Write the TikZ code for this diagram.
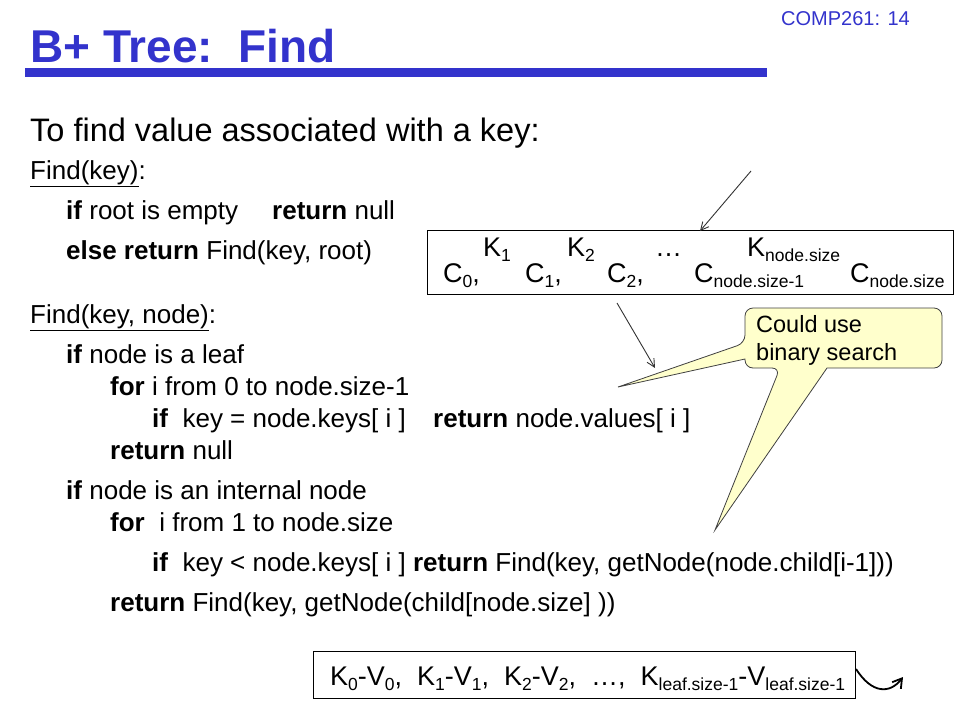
\documentclass[tikz,border=0pt]{standalone}
\usepackage{fontspec}
\setmainfont{Liberation Sans}
\usetikzlibrary{arrows.meta,positioning}
\definecolor{slideblue}{RGB}{51,51,204}
\definecolor{notefill}{RGB}{255,255,204}
\newcommand{\kw}[1]{\textbf{#1}}
\newcommand{\sz}[1]{\fontsize{#1}{#1}\selectfont}
\newcommand{\lo}[1]{\raisebox{-5pt}{\fontsize{17.5}{17.5}\selectfont #1}}

\begin{document}
\begin{tikzpicture}[x=1pt,y=-1pt,
  txt/.style={anchor=base west,inner sep=0pt,font=\sz{26}},
  keys/.style={anchor=base west,inner sep=0pt,font=\sz{27}},
  ptr/.style={draw=black!80,line width=0.9pt,-{Straight Barb[length=8pt,width=8pt]}},
  note/.style={draw=black!75,fill=notefill,line width=0.8pt},
  box/.style={draw,line width=1pt,inner sep=0pt,anchor=north west}]
\useasboundingbox (0,0) rectangle (960,720);
\node[anchor=base east,inner sep=0pt,text=slideblue,font=\sz{20}] (page) at (910,25) {COMP261: 14};
\node[anchor=base west,inner sep=0pt,text=slideblue,font=\bfseries\sz{46}] (title) at (30,62) {B+ Tree:\ \ Find};
\fill[slideblue] (25,68) rectangle (767,77);

\node[txt,font=\sz{32.5}] (intro) at (30,141) {To find value associated with a key:};
\node[txt] (find) at (30,179) {\underline{Find(key)}:};
\node[txt] (empty) at (66,219) {\makebox[206pt][l]{\kw{if} root is empty}\kw{return} null};
\node[txt] (start) at (66,259) {\kw{else return} Find(key, root)};
\node[txt] (findnode) at (30,323) {\underline{Find(key, node)}:};
\node[txt] (leaf) at (66,363) {\kw{if} node is a leaf};
\node[txt] (leaffor) at (110,395) {\kw{for} i from 0 to node.size-1};
\node[txt] (leafif) at (152,427) {\makebox[281pt][l]{\kw{if}\ \ key = node.keys[ i ]}\kw{return} node.values[ i ]};
\node[txt] (leafret) at (110,459) {\kw{return} null};
\node[txt] (inner) at (66,499) {\kw{if} node is an internal node};
\node[txt] (innerfor) at (110,531) {\kw{for}\ \ i from 1 to node.size};
\node[txt] (innerif) at (152,571) {\kw{if}\ \ key < node.keys[ i ] \kw{return} Find(key, getNode(node.child[i-1]))};
\node[txt] (innerret) at (110,611) {\kw{return} Find(key, getNode(child[node.size] ))};

\node[box,minimum width=526pt,minimum height=64pt] (inode) at (427,230) {};
\node[keys] (k1) at (483,256) {K\lo{1}};
\node[keys] (k2) at (567,256) {K\lo{2}};
\node[keys] (dots) at (655,256) {\dots};
\node[keys] (kn) at (747,256) {K\lo{node.size}};
\node[keys] (c0) at (443,282) {C\lo{0},};
\node[keys] (c1) at (525,282) {C\lo{1},};
\node[keys] (c2) at (607,282) {C\lo{2},};
\node[keys] (cm) at (694,282) {C\lo{node.size-1}};
\node[keys] (cn) at (850,282) {C\lo{node.size}};
\coordinate (from) at (751,171);
\coordinate (hit) at (700,231);
\coordinate (below) at (617,303);
\coordinate (child) at (655,368);
\draw[ptr] (from) -- (hit);
\draw[ptr] (below) -- (child);

\draw[note] (745,343) -- (618,387) -- (745,359) [rounded corners=8pt] -- (745,368) -- (780,368)
  [sharp corners] -- (715,530) -- (827,368) [rounded corners=8pt] -- (942,368) -- (942,308) -- (745,308) -- cycle;
\node[anchor=north west,align=left,inner sep=0pt,font=\fontsize{23.5}{28}\selectfont] (hint) at (756,315) {Could use\\binary search};

\node[box,minimum width=542pt,minimum height=47pt] (lnode) at (313,651) {};
\node[keys] (pairs) at (330,685) {K\lo{0}-V\lo{0},\ \ K\lo{1}-V\lo{1},\ \ K\lo{2}-V\lo{2},\ \ \dots,\ \ K\lo{leaf.size-1}-V\lo{leaf.size-1}};
\coordinate (next) at (903,677);
\draw[line width=1.8pt,-{Straight Barb[length=9pt,width=11pt]}] (lnode.east |- 0,669) .. controls (872,694) and (890,694) .. (next);
\end{tikzpicture}
\end{document}
